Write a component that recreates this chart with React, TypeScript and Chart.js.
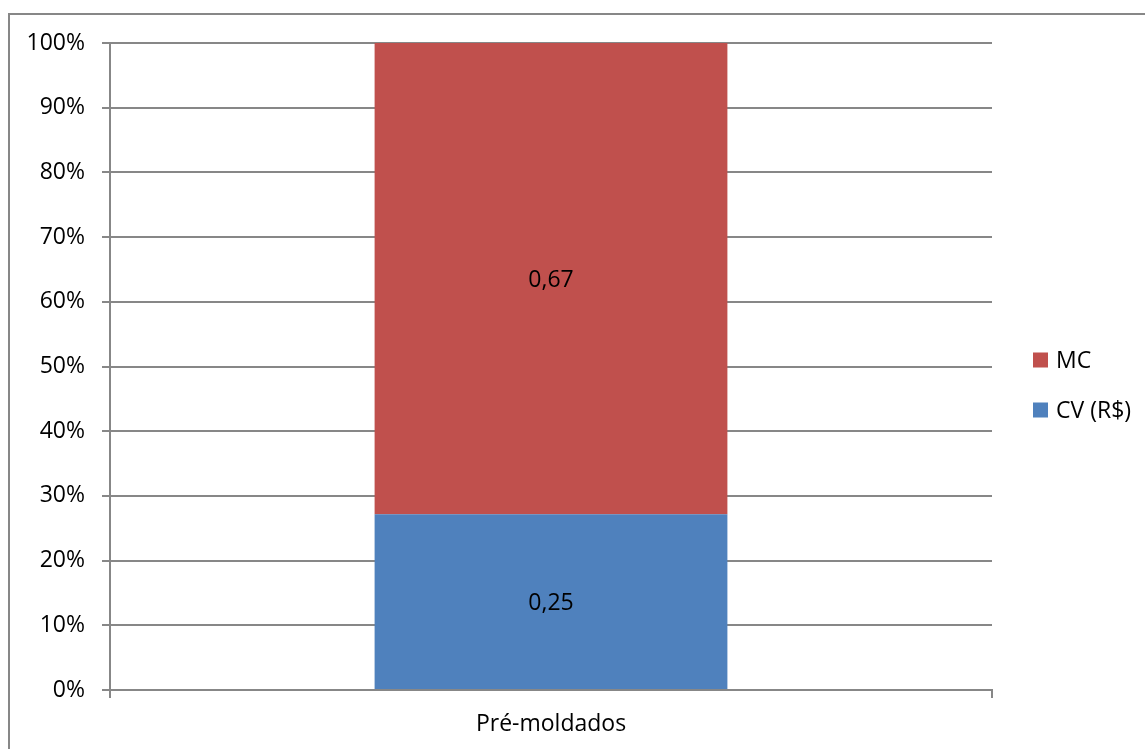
import React, { useEffect, useRef } from "react";
import { Chart, registerables, Plugin } from "chart.js";

Chart.register(...registerables);

// Category and series values
const categories = ["Pré-moldados"];
const cvValues = [0.25];
const mcValues = [0.67];
const yTickValues = [0, 10, 20, 30, 40, 50, 60, 70, 80, 90, 100];

const seriesNames = { mc: "MC", cv: "CV (R$)" };
const colors = { mc: "#C0504D", cv: "#4F81BD" };

const FONT = "'Open Sans', 'Noto Sans', sans-serif";
const FONT_SIZE = 23;
const GRID = "#878787";

// 100% stacking: each segment's share of the category total
const totals = categories.map((_, i) => cvValues[i] + mcValues[i]);
const cvPct = cvValues.map((v, i) => (v / totals[i]) * 100);
const mcPct = mcValues.map((v, i) => (v / totals[i]) * 100);

const fmt = (v: number) => v.toFixed(2).replace(".", ",");

// Writes each segment's raw value in the middle of its bar segment
const segmentLabels: Plugin = {
  id: "segmentLabels",
  afterDatasetsDraw(chart) {
    const ctx = chart.ctx;
    ctx.save();
    ctx.font = `${FONT_SIZE}px ${FONT}`;
    ctx.fillStyle = "#000";
    ctx.textAlign = "center";
    ctx.textBaseline = "middle";
    chart.data.datasets.forEach((ds: any, di) => {
      const meta = chart.getDatasetMeta(di);
      meta.data.forEach((el: any, i) => {
        const raw = ds.rawValues[i];
        const yMid = (el.y + el.base) / 2;
        ctx.fillText(fmt(raw), el.x, yMid + 2);
      });
    });
    ctx.restore();
  },
};

// Right-hand legend with square swatches, top entry = top segment
const sideLegend: Plugin = {
  id: "sideLegend",
  afterDraw(chart) {
    const ctx = chart.ctx;
    const area = chart.chartArea;
    const items = [...chart.data.datasets].reverse();
    const x = area.right + 41;
    const yStart = 360;
    const gap = 50;
    ctx.save();
    ctx.font = `${FONT_SIZE}px ${FONT}`;
    ctx.textAlign = "left";
    ctx.textBaseline = "middle";
    items.forEach((ds: any, i) => {
      const cy = yStart + i * gap;
      ctx.fillStyle = ds.backgroundColor;
      ctx.fillRect(x, cy - 7.5, 15, 15);
      ctx.fillStyle = "#000";
      ctx.fillText(ds.label, x + 23, cy + 1);
    });
    ctx.restore();
  },
};

export default function App() {
  const canvasRef = useRef<HTMLCanvasElement | null>(null);

  useEffect(() => {
    if (!canvasRef.current) return;
    const chart = new Chart(canvasRef.current, {
      type: "bar",
      data: {
        labels: categories,
        datasets: [
          {
            label: seriesNames.cv,
            data: cvPct,
            rawValues: cvValues,
            backgroundColor: colors.cv,
            barPercentage: 0.4,
            categoryPercentage: 1,
          } as any,
          {
            label: seriesNames.mc,
            data: mcPct,
            rawValues: mcValues,
            backgroundColor: colors.mc,
            barPercentage: 0.4,
            categoryPercentage: 1,
          } as any,
        ],
      },
      options: {
        animation: false,
        responsive: false,
        devicePixelRatio: 1,
        layout: { padding: { top: 43, right: 153, bottom: 0, left: 0 } },
        plugins: { legend: { display: false }, tooltip: { enabled: false } },
        scales: {
          x: {
            stacked: true,
            afterFit: (s: any) => {
              s.height = 59;
            },
            border: { display: true, color: GRID, width: 2 },
            grid: {
              display: true,
              offset: true,
              drawOnChartArea: false,
              drawTicks: true,
              tickLength: 8,
              color: GRID,
              lineWidth: 2,
            },
            ticks: {
              color: "#000",
              padding: 13,
              font: { family: FONT, size: FONT_SIZE },
            },
          },
          y: {
            stacked: true,
            min: 0,
            max: 100,
            afterFit: (s: any) => {
              s.width = 110;
            },
            afterBuildTicks: (s: any) => {
              s.ticks = yTickValues.map((v) => ({ value: v }));
            },
            border: { display: true, color: GRID, width: 2 },
            grid: {
              color: GRID,
              lineWidth: 2,
              tickLength: 8,
            },
            ticks: {
              color: "#000",
              padding: 17,
              font: { family: FONT, size: FONT_SIZE },
              callback: (v: any) => `${v}%`,
            },
          },
        },
      },
      plugins: [segmentLabels, sideLegend],
    });
    return () => chart.destroy();
  }, []);

  return (
    <div
      style={{
        position: "fixed",
        left: 0,
        top: 0,
        width: 1145,
        height: 749,
        overflow: "hidden",
        background: "#fff",
      }}
    >
      <div
        style={{
          position: "absolute",
          left: 8,
          top: 13,
          width: 1300,
          height: 900,
          borderTop: `2px solid ${GRID}`,
          borderLeft: `2px solid ${GRID}`,
          boxSizing: "border-box",
        }}
      />
      <canvas
        ref={canvasRef}
        width={1145}
        height={749}
        style={{ position: "absolute", left: 0, top: 0 }}
      />
    </div>
  );
}
